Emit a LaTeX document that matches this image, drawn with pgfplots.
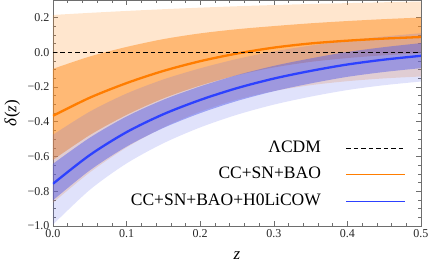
\documentclass[border=0pt]{standalone}
\usepackage{fontspec}
\setmainfont{Liberation Serif}
\usepackage{pgfplots}
\pgfplotsset{compat=1.18}
\usepgfplotslibrary{fillbetween}
\usepackage{pgfplotstable}

\definecolor{oline}{RGB}{255,125,0}
\definecolor{ofill}{RGB}{255,140,30}
\definecolor{bline}{RGB}{45,65,255}
\definecolor{bfill}{RGB}{85,95,235}
\definecolor{framec}{RGB}{110,110,110}

\pgfplotstableread{
z om o1u o1l o2u o2l bm b1u b1l b2u b2l
0.00 -0.366 -0.096 -0.620 0.214 -0.866 -0.757 -0.642 -0.852 -0.475 -0.992
0.05 -0.262 -0.025 -0.477 0.226 -0.692 -0.592 -0.492 -0.680 -0.342 -0.792
0.10 -0.178 0.030 -0.361 0.237 -0.548 -0.460 -0.370 -0.543 -0.238 -0.640
0.15 -0.108 0.075 -0.266 0.247 -0.433 -0.357 -0.274 -0.436 -0.157 -0.524
0.20 -0.052 0.108 -0.192 0.256 -0.342 -0.275 -0.197 -0.351 -0.093 -0.433
0.25 -0.008 0.132 -0.133 0.264 -0.273 -0.207 -0.132 -0.281 -0.039 -0.360
0.30 0.026 0.150 -0.088 0.271 -0.224 -0.152 -0.079 -0.225 0.004 -0.302
0.35 0.050 0.166 -0.056 0.277 -0.190 -0.108 -0.036 -0.180 0.038 -0.256
0.40 0.066 0.179 -0.034 0.282 -0.167 -0.071 0.001 -0.142 0.067 -0.218
0.45 0.078 0.190 -0.018 0.287 -0.151 -0.043 0.029 -0.114 0.090 -0.190
0.50 0.087 0.199 -0.006 0.291 -0.140 -0.021 0.052 -0.092 0.109 -0.169
}\bands

\begin{document}
\begin{tikzpicture}
\begin{axis}[
  at={(0pt,0pt)}, anchor=south west,
  width=368pt, height=226pt, scale only axis,
  xmin=0, xmax=0.5, ymin=-1, ymax=0.3,
  xtick={0,0.1,0.2,0.3,0.4,0.5},
  xticklabels={0.0,0.1,0.2,0.3,0.4,0.5},
  ytick={-1,-0.8,-0.6,-0.4,-0.2,0,0.2},
  yticklabels={−1.0,−0.8,−0.6,−0.4,−0.2,0.0,0.2},
  minor x tick num=4, minor y tick num=3,
  tick align=inside, major tick length=5pt, minor tick length=3pt,
  every tick/.style={framec, line width=0.5pt},
  axis line style={framec, line width=0.6pt},
  ticklabel style={font=\fontsize{12}{12}\selectfont, text=black!85},
  xlabel={\textit{z}}, ylabel={\textit{δ}(\textit{z})},
  label style={font=\fontsize{17}{17}\selectfont},
  xlabel style={at={(axis description cs:0.5,-0.13)}, anchor=center},
  ylabel style={at={(axis description cs:-0.111,0.5)}, anchor=center},
  legend cell align=right,
  legend plot pos=right,
  legend style={at={(axis description cs:0.959,0.38)}, anchor=north east,
    draw=none, fill=none, inner sep=0pt,
    font=\fontsize{17.5}{17.5}\selectfont,
    row sep=10.5pt, column sep=25pt,
    nodes={inner sep=0pt, text height=12pt, text depth=4pt}},
  legend image code/.code={\draw[#1, line width=0.8pt] (0pt,0pt) -- (59pt,0pt);},
]
\addlegendimage{black, dash pattern=on 4.5pt off 3pt}
\addlegendentry{ΛCDM}
\addlegendimage{oline}
\addlegendentry{CC+SN+BAO}
\addlegendimage{bline}
\addlegendentry{CC+SN+BAO+H0LiCOW}

\addplot[draw=none, name path=o2u, forget plot, smooth] table[x=z,y=o2u]{\bands};
\addplot[draw=none, name path=o2l, forget plot, smooth] table[x=z,y=o2l]{\bands};
\addplot[draw=none, name path=o1u, forget plot, smooth] table[x=z,y=o1u]{\bands};
\addplot[draw=none, name path=o1l, forget plot, smooth] table[x=z,y=o1l]{\bands};
\addplot[draw=none, name path=b2u, forget plot, smooth] table[x=z,y=b2u]{\bands};
\addplot[draw=none, name path=b2l, forget plot, smooth] table[x=z,y=b2l]{\bands};
\addplot[draw=none, name path=b1u, forget plot, smooth] table[x=z,y=b1u]{\bands};
\addplot[draw=none, name path=b1l, forget plot, smooth] table[x=z,y=b1l]{\bands};

\addplot[fill=ofill, fill opacity=0.22, draw=none, forget plot] fill between[of=o2u and o2l];
\addplot[fill=ofill, fill opacity=0.5, draw=none, forget plot] fill between[of=o1u and o1l];
\addplot[oline, line width=2.3pt, smooth, forget plot] table[x=z,y=om]{\bands};
\addplot[fill=bfill, fill opacity=0.18, draw=none, forget plot] fill between[of=b2u and b2l];
\addplot[fill=bfill, fill opacity=0.48, draw=none, forget plot] fill between[of=b1u and b1l];
\addplot[bline, line width=2.3pt, smooth, forget plot] table[x=z,y=bm]{\bands};
\addplot[black, line width=0.8pt, dash pattern=on 4.5pt off 3pt, forget plot] coordinates {(0,0) (0.5,0)};
\end{axis}
\pgfresetboundingbox
\path[use as bounding box] (-53pt,-38pt) rectangle (376pt,226pt);
\end{tikzpicture}
\end{document}
